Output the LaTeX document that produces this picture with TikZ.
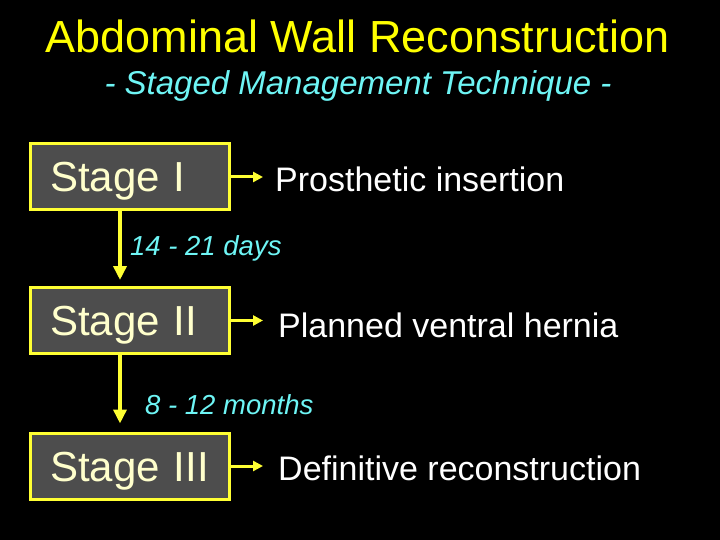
\documentclass[tikz,border=0pt]{standalone}
\usepackage{fontspec}
\setmainfont{Liberation Sans}
\usetikzlibrary{arrows.meta}
\definecolor{titleyellow}{RGB}{255,255,0}
\definecolor{subcyan}{RGB}{110,245,245}
\definecolor{boxgray}{RGB}{77,77,77}
\definecolor{boxedge}{RGB}{255,255,51}
\definecolor{stagecream}{RGB}{255,255,204}
\tikzset{
  stagebox/.style={draw=boxedge, line width=3pt, fill=boxgray, text=stagecream,
    font=\fontsize{42}{48}\selectfont, text width=159pt, align=left,
    inner xsep=20pt, inner ysep=14pt, minimum height=66pt,
    text height=34pt, text depth=4pt},
  result/.style={anchor=base west, inner sep=0pt, text=white, font=\fontsize{34}{40}\selectfont},
  delay/.style={anchor=base west, inner sep=0pt, text=subcyan, font=\fontsize{27.5}{32}\selectfont\itshape},
  flow/.style={draw=boxedge, line width=4pt, -{Triangle[length=14pt,width=13pt]}},
  side/.style={draw=boxedge, line width=3pt, -{Triangle[length=10pt,width=10pt]}}
}
\begin{document}
\begin{tikzpicture}[x=1pt,y=-1pt]
\useasboundingbox[fill=black] (0,0) rectangle (720,540);
\node[anchor=base, text=titleyellow, font=\fontsize{45}{54}\selectfont] (title) at (357.5,53) {Abdominal Wall Reconstruction};
\node[anchor=base, text=subcyan, font=\fontsize{33}{40}\selectfont\itshape] (subtitle) at (358,95) {- Staged Management Technique -};
\node[stagebox] (s1) at (129.5,177) {Stage I};
\node[stagebox] (s2) at (129.5,320.5) {Stage II};
\node[stagebox] (s3) at (129.5,466) {Stage III};
\node[result] (r1) at (275,192) {Prosthetic insertion};
\node[result] (r2) at (278,337) {Planned ventral hernia};
\node[result] (r3) at (278,480) {Definitive reconstruction};
\node[delay] (d1) at (130,255) {14 - 21 days};
\node[delay] (d2) at (145,414) {8 - 12 months};
\draw[side, shorten >=12pt] (s1.east) -- (s1.east -| r1.west);
\draw[side, shorten >=15pt] (s2.east) -- (s2.east -| r2.west);
\draw[side, shorten >=15pt] (s3.east) -- (s3.east -| r3.west);
\draw[flow, shorten >=6pt] ([xshift=-9.5pt]s1.south) -- ([xshift=-9.5pt]s2.north);
\draw[flow, shorten >=8pt] ([xshift=-9.5pt]s2.south) -- ([xshift=-9.5pt]s3.north);
\end{tikzpicture}
\end{document}
